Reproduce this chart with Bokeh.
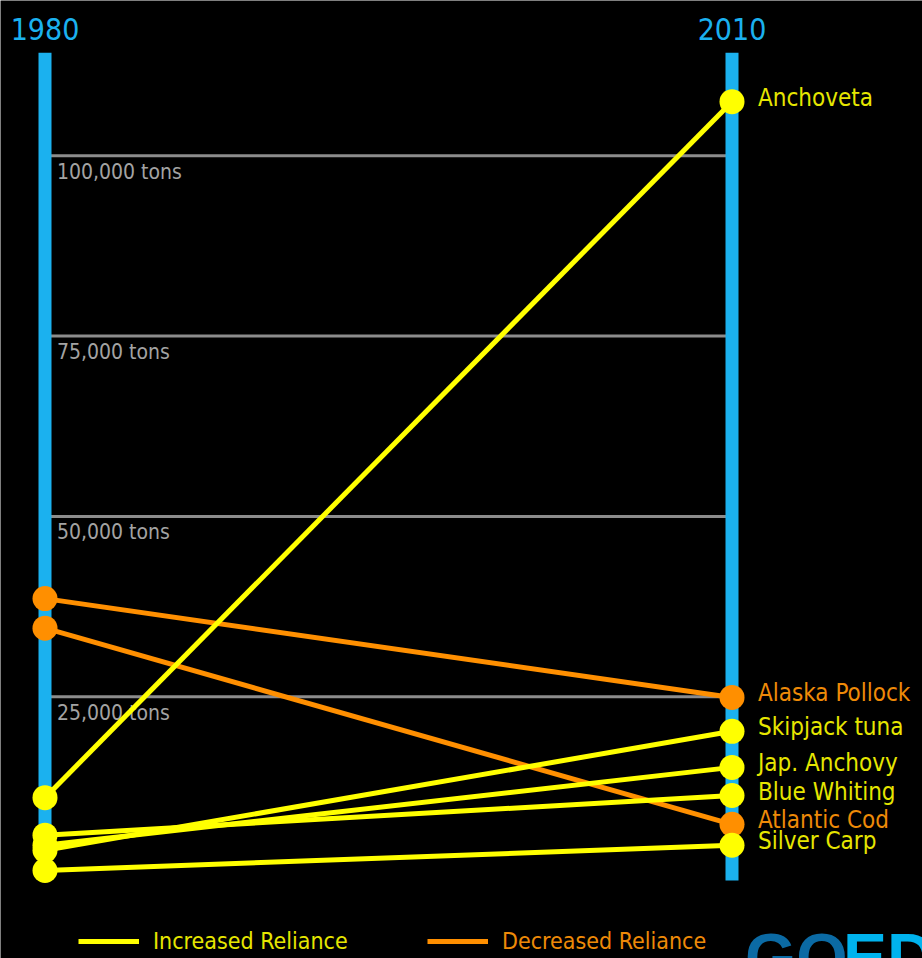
from bokeh.plotting import figure
from bokeh.models import Range1d, Legend, LegendItem
from bokeh.core.properties import value
from bokeh.embed import file_html
from bokeh.resources import INLINE

# ---------------- data ----------------
years = [1980, 2010]
year_labels = ["1980", "2010"]
species = ["Anchoveta", "Alaska Pollock", "Skipjack tuna", "Jap. Anchovy",
           "Blue Whiting", "Atlantic Cod", "Silver Carp"]
tons_1980 = [11000, 38600, 3700, 4400, 5800, 34500, 900]
tons_2010 = [107500, 24900, 20200, 15200, 11300, 7300, 4400]
grid_ticks = [25000, 50000, 75000, 100000]
grid_labels = ["25,000 tons", "50,000 tons", "75,000 tons", "100,000 tons"]
legend_labels = ["Increased Reliance", "Decreased Reliance"]

# ---------------- style ----------------
FONT = "'DejaVu Sans Condensed', 'DejaVu Sans', sans-serif"
BG = "#000000"
BLUE = "#1bb1ef"
GRAY_LINE = "#8c8c8c"
GRAY_TEXT = "#a3a3a3"
YELLOW = "#ffff00"
YELLOW_TEXT = "#e6e600"
ORANGE = "#ff8f00"
ORANGE_TEXT = "#ee8a08"

W, H = 922, 958
PX_PER_YEAR = 687 / 30
PX_PER_TON = 180.3 / 25000
x_start = years[0] - 44.5 / PX_PER_YEAR
y_start = -81.5 / PX_PER_TON
y_end = y_start + H / PX_PER_TON

p = figure(width=W, height=H, output_backend="svg", toolbar_location=None,
           x_range=Range1d(x_start, x_start + W / PX_PER_YEAR),
           y_range=Range1d(y_start, y_end),
           x_axis_type=None, y_axis_type=None, min_border=0,
           background_fill_color=BG, border_fill_color=BG,
           outline_line_color=None)
p.grid.visible = False

# grid lines and their labels
p.segment(x0=years[0], x1=years[1], y0=grid_ticks, y1=grid_ticks,
          line_width=3, line_color=GRAY_LINE)
p.text(x=years[0], y=grid_ticks, text=grid_labels, x_offset=12, y_offset=16,
       text_baseline="middle", text_align="left",
       text_font=value(FONT), text_font_size="21px", text_color=GRAY_TEXT)

# vertical year bars
p.segment(x0=years, x1=years, y0=-500, y1=114300, line_width=13,
          line_color=BLUE, line_cap="butt")
p.text(x=years, y=y_end, text=year_labels, y_offset=28, text_align="center",
       text_baseline="middle", text_font=value(FONT),
       text_font_size="30px", text_color=BLUE)

inc = [i for i in range(len(species)) if tons_2010[i] >= tons_1980[i]]
dec = [i for i in range(len(species)) if tons_2010[i] < tons_1980[i]]

def lines(idx, color):
    return p.multi_line(xs=[years for _ in idx],
                        ys=[[tons_1980[i], tons_2010[i]] for i in idx],
                        line_color=color, line_width=5)

dec_r = lines(dec, ORANGE)
inc_r = lines(inc, YELLOW)

for idx, color in ((dec, ORANGE), (inc, YELLOW)):
    p.scatter(x=[years[0]] * len(idx) + [years[1]] * len(idx),
              y=[tons_1980[i] for i in idx] + [tons_2010[i] for i in idx],
              size=25, fill_color=color, line_color=None)

label_colors = [YELLOW_TEXT if tons_2010[i] >= tons_1980[i] else ORANGE_TEXT
                for i in range(len(species))]
p.text(x=years[1], y=tons_2010, text=species, x_offset=26, y_offset=-4,
       text_baseline="middle", text_align="left", text_font=value(FONT),
       text_font_size="24px", text_color=label_colors)

# logo fragment at bottom right
p.text(x=years[1], y=y_start, text=["GO"], x_offset=13, y_offset=-39,
       text_baseline="top", text_font=value("Liberation Sans"),
       text_font_style="bold", text_font_size="66px", text_color="#0b6aa4")
p.text(x=years[1], y=y_start, text=["ED"], x_offset=111, y_offset=-39,
       text_baseline="top", text_font=value("Liberation Sans"),
       text_font_style="bold", text_font_size="66px", text_color="#00b3ee")

# legends
for r, lab, col, x in ((inc_r, legend_labels[0], YELLOW_TEXT, 78),
                       (dec_r, legend_labels[1], ORANGE_TEXT, 427)):
    leg = Legend(items=[LegendItem(label=lab, renderers=[r])],
                 location=(x, 4), orientation="horizontal",
                 background_fill_alpha=0, border_line_color=None,
                 label_text_color=col, label_text_font=FONT,
                 label_text_font_size="23px", glyph_width=61, glyph_height=20,
                 label_standoff=14, padding=0, margin=0)
    p.add_layout(leg)

open("out.html", "w").write(file_html(p, INLINE))
